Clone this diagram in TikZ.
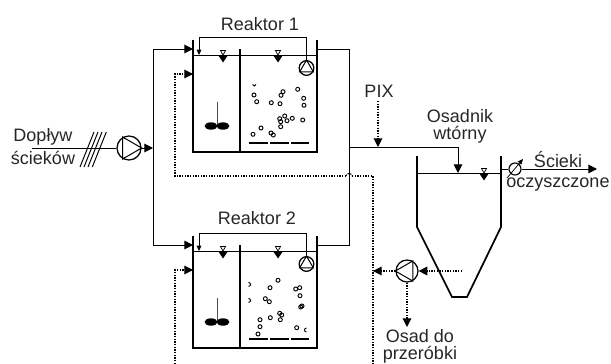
\documentclass[tikz,border=0pt]{standalone}
\usepackage{fontspec}
\setmainfont{Liberation Sans}
\usetikzlibrary{arrows.meta, positioning}

\begin{document}
\begin{tikzpicture}[x=0.75pt, y=-0.75pt,
    every node/.style = {inner sep=0pt},
    label/.style = {font=\fontsize{13.5}{12.75}\selectfont, align=center, text=black!85},
    pump/.style = {draw, circle, line width=0.95pt, minimum size=#1},
    wall/.style = {line width=1.3pt},
    pipe/.style = {line width=0.75pt},
    sludge/.style = {line width=0.8pt, dash pattern=on 1.1pt off 0.9pt},
    flow/.style = {-{Triangle[length=6.5pt, width=6.5pt]}},
    tinyflow/.style = {-{Triangle[length=4pt, width=3.5pt]}},
    bubble/.style = {line width=0.7pt},
    bar/.style = {line width=1.8pt}]
    \useasboundingbox (0,0) rectangle (611,364);

    % reactors
    \foreach \r/\dy in {1/0, 2/196} {
        \begin{scope}[yshift=-0.75*\dy]
            \coordinate (wallL\r) at (193,40);
            \coordinate (botL\r) at (193,152);
            \coordinate (botR\r) at (317,152);
            \coordinate (wallR\r) at (317,40);
            \coordinate (divT\r) at (240,49);
            \coordinate (divB\r) at (240,152);
            \coordinate (waterL\r) at (193,55);
            \coordinate (waterR\r) at (317,55);
            \coordinate (in\r) at (193,49);
            \coordinate (out\r) at (317,49);
            \coordinate (ret\r) at (193,74);
            \coordinate (recA\r) at (306.5,37);
            \coordinate (recB\r) at (199,37);
            \coordinate (recC\r) at (199,55);
            \node[pump=11pt] (pumpR\r) at (306.5,68) {};

            \draw[wall] (wallL\r) -- (botL\r) -- (botR\r) -- (wallR\r);
            \draw[wall] (divT\r) -- (divB\r);
            \draw[pipe] (waterL\r) -- (waterR\r);
            \draw[pipe] (pumpR\r.90) -- (pumpR\r.210) -- (pumpR\r.330) -- cycle;
            \draw[pipe, tinyflow] (pumpR\r) -- (recA\r) -- (recB\r) -- (recC\r);

            % level marks
            \foreach \x in {223, 278} {
                \draw[line width=0.55pt] (\x-2.5,50.5) -- (\x+2.5,50.5) -- (\x,55) -- cycle;
                \fill (\x-5,55) -- (\x+5,55) -- (\x,62.5) -- cycle;
            }

            % mixer
            \draw[pipe, black!70] (217,102) -- (217,126);
            \fill (211,126) ellipse (6.5 and 3.7);
            \fill (223,126) ellipse (6.5 and 3.7);

            % aeration
            \draw[bar] (249,143) -- (268,143);
            \draw[bar] (270,143) -- (289,143);
            \draw[bar] (291,143) -- (309,143);
        \end{scope}
    }

    % bubbles
    \foreach \x/\y in {254/95, 256.7/101.7, 271.3/102.7, 280/103.7, 281/95.3, 283/91.7,
        297.7/89.3, 303.7/98.3, 304/105.3, 279.7/118.7, 284.7/116, 287/120.7, 292.3/118.3,
        302.7/120, 280.7/121.7, 280.7/126.7, 261/128, 253/134.3, 271/133, 273.3/135,
        278/280.3, 270/287.7, 295.7/289, 299.7/287.7, 300/295.7, 265.3/298.7, 269.3/301.7,
        302/306, 300.7/307, 279.7/313.3, 281.7/315, 280.3/319.7, 270.3/317.7, 260/319.7,
        260/326.7, 258/334, 296.7/327.7}
        \draw[bubble] (\x,\y) circle (2);
    \draw[bubble] (252.6,84.5) -- (254.3,86) -- (256,84.5);
    \draw[bubble] (248.5,286.4) arc (90:-90:2);
    \draw[bubble] (248.5,302.4) arc (90:-90:2);
    \draw[bubble] (306.5,332) arc (90:270:2);

    % inlet
    \node[label] (dop) at (43,137) {Dopływ};
    \node[label] (sci) at (43,158) {ścieków};
    \coordinate (feedA) at (32,148);
    \coordinate (feedB) at (153,148);
    \coordinate (splitT) at (153,49);
    \coordinate (splitB) at (153,245);
    \node[pump=18pt] (pumpF) at (129,148) {};
    \draw[pipe] (pumpF.0) -- (pumpF.120) -- (pumpF.240) -- cycle;
    \draw[pipe] (feedA) -- (pumpF);
    \draw[pipe, flow] (pumpF) -- (feedB);
    \foreach \x in {0, 4, 8, 12.3}
        \draw[pipe] (80+\x,167) -- (94+\x,132);
    \draw[pipe, flow] (splitB) -- (splitT) -- (in1);
    \draw[pipe, flow] (splitB) -- (in2);

    % outlet of the reactors
    \coordinate (outT) at (349,49);
    \coordinate (outB) at (349,245);
    \coordinate (joint) at (349,147);
    \draw[pipe] (out1) -- (outT) -- (outB) -- (out2);

    % clarifier
    \coordinate (osTL) at (417,156);
    \coordinate (osL) at (417,227);
    \coordinate (osBL) at (452,297);
    \coordinate (osBR) at (467,297);
    \coordinate (osR) at (501,227);
    \coordinate (osTR) at (501,156);
    \coordinate (osWL) at (417,173);
    \coordinate (osWR) at (501,173);
    \coordinate (osIn) at (458,147);
    \coordinate (osTip) at (458,173);
    \draw[wall] (osTL) -- (osL) -- (osBL) -- (osBR) -- (osR) -- (osTR);
    \draw[pipe] (osWL) -- (osWR);
    \draw[pipe, flow] (joint) -- (osIn) -- (osTip);
    \draw[line width=0.55pt] (481.5,168.5) -- (486.5,168.5) -- (484,173) -- cycle;
    \fill (479,173) -- (489,173) -- (484,180.5) -- cycle;
    \node[label] (osadnik) at (460,126) {Osadnik\\wtórny};

    % PIX
    \node[label] (pix) at (379,91) {PIX};
    \coordinate (pixA) at (378,101);
    \coordinate (pixTip) at (378,147);
    \draw[sludge, flow] (pixA) -- (pixTip);

    % effluent
    \coordinate (effA) at (501,169);
    \coordinate (effB) at (597,169);
    \node[draw, circle, line width=0.85pt, minimum size=9pt] (valve) at (515,169) {};
    \draw[pipe] (effA) -- (valve);
    \draw[pipe, flow] (valve) -- (effB);
    \coordinate (vA) at (507,178);
    \coordinate (vB) at (523,159);
    \draw[line width=0.55pt, tinyflow] (vA) -- (vB);
    \node[label] (ecA) at (558,160) {Ścieki};
    \node[label] (ecB) at (558,185) {oczyszczone};

    % return sludge
    \coordinate (retA) at (175,176);
    \coordinate (hopA) at (346,176);
    \coordinate (hopB) at (352,176);
    \coordinate (retB) at (373,176);
    \coordinate (retEnd) at (373,364);
    \coordinate (retC) at (175,74);
    \coordinate (retD) at (175,270);
    \coordinate (retE) at (193,270);
    \coordinate (retF) at (175,364);
    \draw[sludge, flow] (hopA) -- (retA) -- (retC) -- (ret1);
    \draw[sludge] (hopA) to[bend left=90, looseness=1.4] (hopB);
    \draw[sludge] (hopB) -- (retB) -- (retEnd);
    \draw[sludge, flow] (retF) -- (retD) -- (retE);

    % sludge pump
    \node[pump=16.5pt] (pumpS) at (407,271) {};
    \draw[pipe] (pumpS.180) -- (pumpS.60) -- (pumpS.300) -- cycle;
    \coordinate (sluA) at (462,271);
    \coordinate (sluB) at (373,271);
    \coordinate (sluC) at (407,327);
    \draw[sludge, flow] (sluA) -- (pumpS.0);
    \draw[sludge, flow] (pumpS.180) -- (sluB);
    \draw[sludge, flow] (pumpS.270) -- (sluC);
    \node[label] (osad) at (420,346) {Osad do\\przeróbki};

    \node[label] (r1) at (260,24) {Reaktor 1};
    \node[label] (r2) at (257,218) {Reaktor 2};
\end{tikzpicture}
\end{document}
